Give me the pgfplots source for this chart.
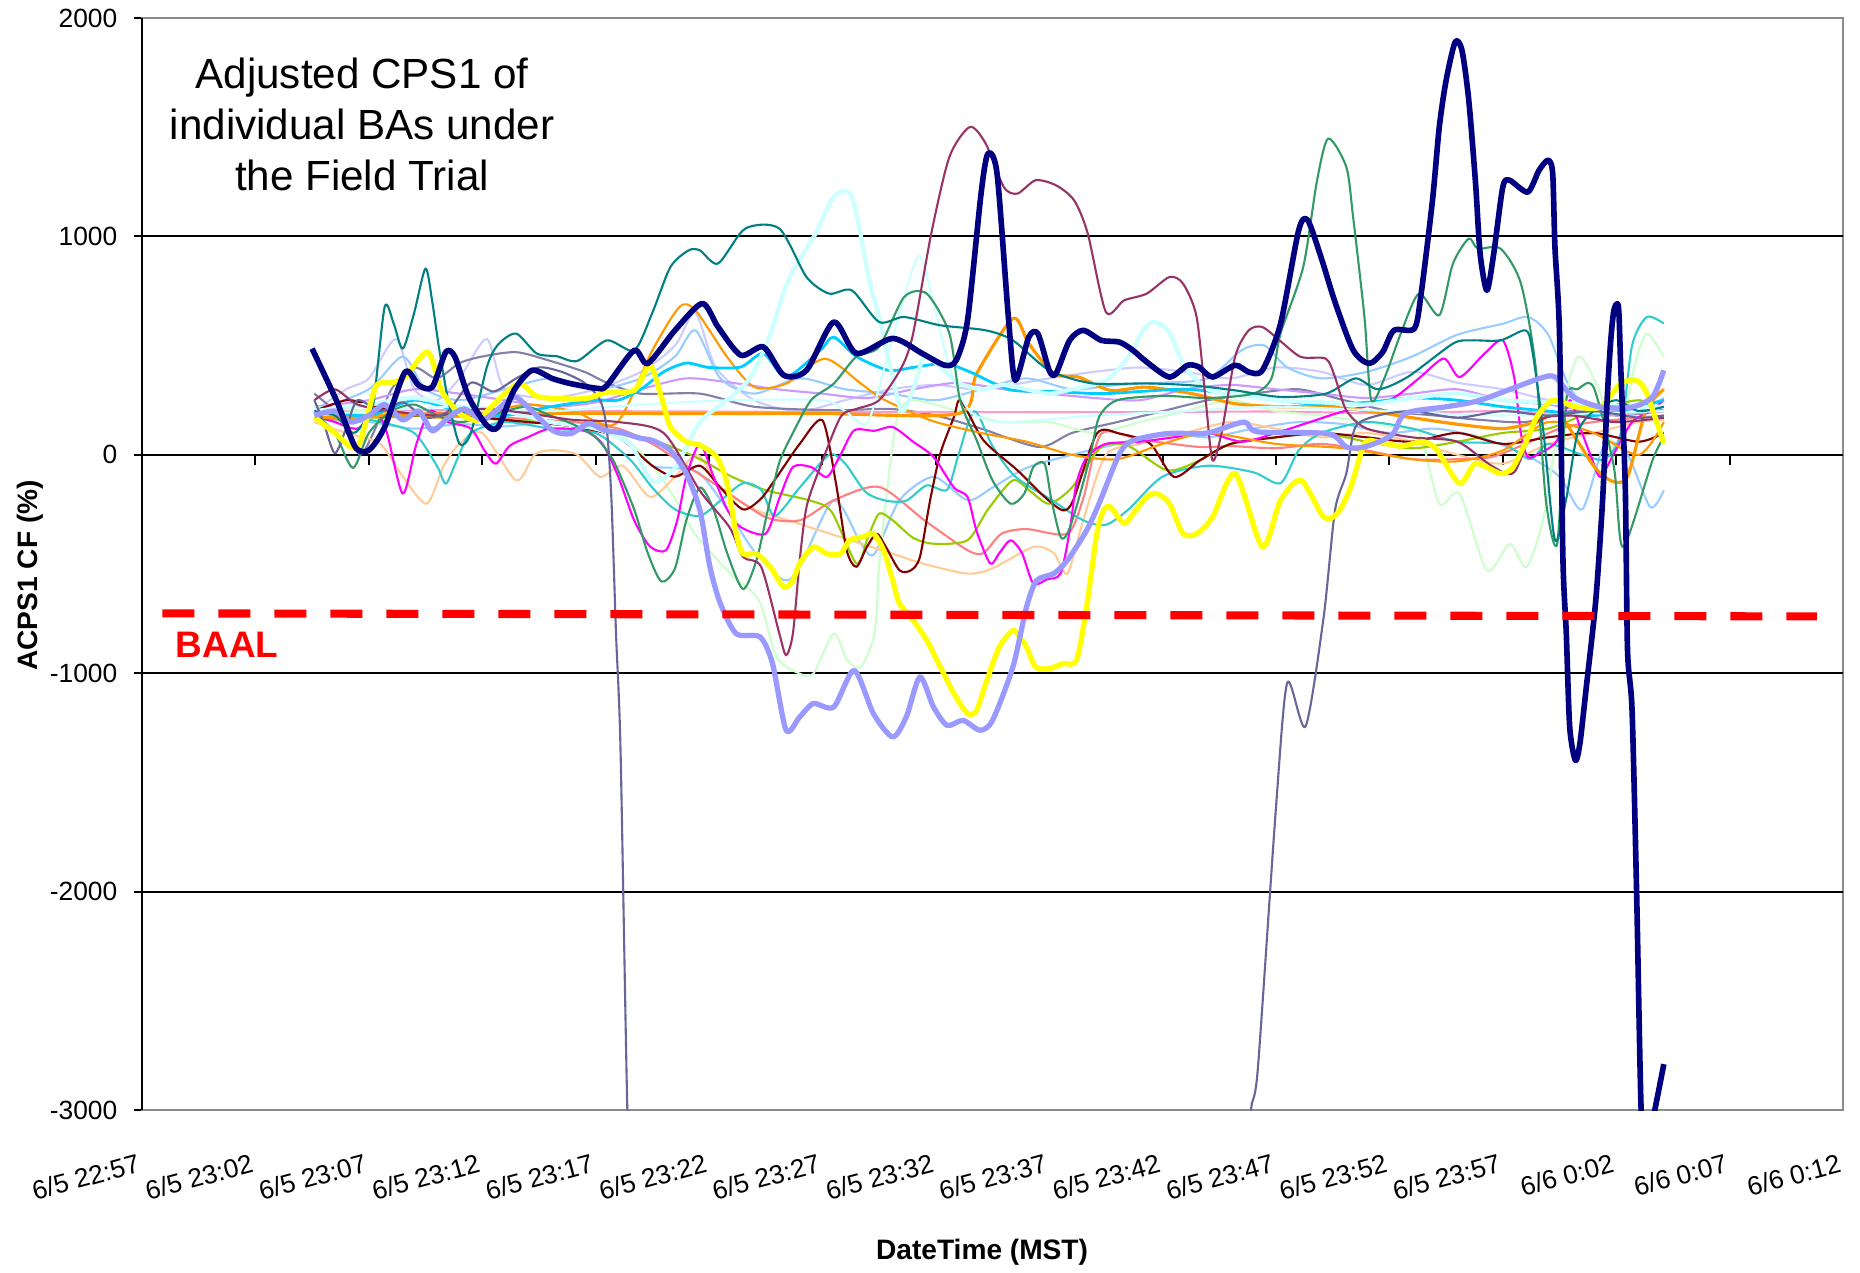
\documentclass[border=0pt]{standalone}
\usepackage{pgfplots}
\pgfplotsset{compat=1.18}
\usepackage{fontspec}
\setmainfont{Liberation Sans}

\definecolor{navyline}{HTML}{000080}
\definecolor{peri}{HTML}{9999FF}
\definecolor{yel}{HTML}{FFFF00}
\definecolor{bluegray}{HTML}{666699}
\definecolor{plum}{HTML}{993366}
\definecolor{tealline}{HTML}{008080}
\definecolor{seagreen}{HTML}{339966}
\definecolor{lcyan}{HTML}{CCFFFF}
\definecolor{skyb}{HTML}{00CCFF}
\definecolor{orng}{HTML}{FF9900}
\definecolor{mag}{HTML}{FF00FF}
\definecolor{darkred}{HTML}{800000}
\definecolor{tan}{HTML}{FFCC99}
\definecolor{lgreen}{HTML}{CCFFCC}
\definecolor{paleblue}{HTML}{99CCFF}
\definecolor{lav}{HTML}{CC99FF}
\definecolor{rose}{HTML}{FF99CC}
\definecolor{coral}{HTML}{FF8080}
\definecolor{lime}{HTML}{99CC00}
\definecolor{aqua}{HTML}{33CCCC}
\definecolor{grayblue}{HTML}{8080A8}
\definecolor{llav}{HTML}{CCCCFF}

\begin{document}
\begin{tikzpicture}
\useasboundingbox (-14.2mm,-16.2mm) rectangle (171.8mm,111.0mm);
\begin{axis}[
    at={(0,0)}, anchor=south west,
    scale only axis,
    width=170.1mm, height=109.2mm,
    xmin=0, xmax=75, ymin=-3000, ymax=2000,
    xtick={0,5,...,75},
    xticklabels={6/5 22:57,6/5 23:02,6/5 23:07,6/5 23:12,6/5 23:17,6/5 23:22,6/5 23:27,6/5 23:32,6/5 23:37,6/5 23:42,6/5 23:47,6/5 23:52,6/5 23:57,6/6 0:02,6/6 0:07,6/6 0:12},
    xtick pos=bottom, ytick pos=left,
    major x tick style={draw=none},
    x tick label style={rotate=15, anchor=north east, inner sep=0pt, xshift=-1.4mm, yshift=-3.2mm},
    ytick={-3000,-2000,...,2000},
    y tick label style={inner sep=0pt, xshift=-1.6mm},
    tick label style={font=\fontsize{7.5}{9}\selectfont},
    /pgf/number format/assume math mode=true,
    /pgf/number format/1000 sep={},
    tick align=outside, major tick length=0.8mm,
    ytick style={black, line width=0.6pt},
    axis line style={black!45, line width=0.6pt},
    every axis plot/.append style={line join=round, no markers, smooth, tension=0.45},
]

% grid lines
\pgfplotsinvokeforeach{-2000,-1000,0,1000}{
  \draw[black, line width=0.6pt] (axis cs:0,#1) -- (axis cs:75,#1);
}
\pgfplotsinvokeforeach{5,10,...,70}{
  \draw[black, line width=0.6pt] (axis cs:#1,0) -- ([yshift=-1mm]axis cs:#1,0);
}

% background BAs (thin lines)
\addplot[llav, line width=0.6pt] coordinates {
(7.6,200)(9,300)(10,350)(11.2,530)(12,300)(13,250)(14,350)(15.2,530)(16,300)(18,260)(20,300)(22,380)(23.5,500)(24.4,650)(25.3,400)(27,250)(29,200)(31,250)(33,300)(35,320)(37,300)(40,350)(42,380)(44,400)(46,380)(48,350)(50,400)(52,380)(54,320)(56,380)(58,330)(60,300)(62,250)(64,200)(67.1,250)};
\addplot[grayblue, line width=0.6pt] coordinates {
(7.6,280)(9,150)(9.6,0)(10.2,100)(11,300)(12,400)(13,350)(14,420)(15,450)(16.5,470)(18,430)(19.5,380)(20.5,330)(22,280)(24.6,280)(27,220)(30.5,204)(33,210)(35,180)(37,120)(39.55,36)(41,100)(43,150)(45,200)(47,250)(49,280)(51,300)(53,250)(55,200)(57,180)(59,160)(61,150)(63,200)(65,180)(67.1,200)};
\addplot[rose, line width=0.6pt] coordinates {
(7.6,200)(15,205)(20,200)(25,198)(30,196)(35,196)(40,195)(45,196)(50,198)(55,190)(60,200)(64,180)(67.1,200)};
\addplot[lav, line width=0.6pt] coordinates {
(7.6,220)(10,250)(12,300)(14,280)(16,250)(18,220)(20,240)(22,300)(24,350)(26,330)(28,300)(30,280)(32,260)(34,300)(36,330)(38,300)(40,280)(42,260)(44,250)(46,300)(48,320)(50,300)(52,280)(54,260)(56,280)(58,300)(60,250)(62,230)(64,200)(67.1,200)};
\addplot[paleblue, line width=0.6pt] coordinates {
(7.6,200)(10,300)(11.5,450)(12.5,300)(14,250)(16,300)(18,350)(20,300)(22,350)(23.5,450)(24.4,570)(25.5,350)(27,280)(29,350)(31,300)(33,280)(35,250)(37,300)(39,350)(41,300)(43,320)(45,330)(47,350)(48.5,480)(49.5,500)(50.5,400)(52,350)(54,380)(56,450)(58,550)(60,600)(61.1,631)(62,550)(63,300)(64.5,150)(66,200)(67.1,260)};
\addplot[paleblue, line width=0.6pt] coordinates {
(7.6,160)(10,150)(12,120)(14,140)(16,130)(18,150)(20,120)(21.5,50)(22.5,-50)(23.5,-60)(24.6,-86)(25.8,-250)(26.96,-437)(28.3,-574)(29.0,-513)(30.5,-208)(31.7,-407)(32.3,-453)(33.4,-208)(34.9,-101)(36.4,-208)(37.5,-150)(39,-60)(41,0)(43,50)(45,100)(47,80)(49,120)(51,150)(53,140)(55,100)(57,120)(59,80)(61,0)(62.5,-100)(63.5,-250)(64.5,50)(65.5,0)(66.5,-239)(67.1,-163)};
\addplot[lgreen, line width=0.6pt] coordinates {
(7.6,220)(10,200)(13,180)(16,160)(19,150)(21,100)(22.5,-50)(23.5,-200)(24.3,-350)(25.0,-437)(26,-550)(27.2,-666)(27.98,-926)(29.0,-1002)(29.6,-1002)(30.5,-819)(31.1,-941)(31.7,-971)(32.3,-819)(32.5,-513)(32.8,-208)(33.3,173)(34,250)(36,200)(38,150)(40,150)(42,100)(44,150)(46,200)(48,250)(50,200)(52,180)(54,150)(55.5,120)(56.35,97)(57.2,-224)(58.1,-178)(59.3,-529)(60.3,-407)(61.05,-514)(61.8,-285)(62.4,97)(63.3,448)(64.3,280)(65.0,21)(65.8,402)(66.35,555)(67.1,448)};
\addplot[tan, line width=0.6pt] coordinates {
(7.6,150)(9,100)(10.5,50)(11.5,-100)(12.55,-224)(13.3,-50)(14,50)(15,100)(16.5,-117)(17.3,0)(18.1,21)(19.2,0)(20.2,-101)(21.2,-50)(22.4,-193)(23.5,-100)(24.5,0)(25.5,-150)(27,-250)(28.5,-300)(30,-350)(31.5,-400)(33,-450)(34.5,-500)(36.4,-544)(37.5,-520)(39.3,-422)(40.2,-450)(40.8,-544)(41.5,-300)(42.5,0)(44,50)(46,100)(48,150)(50,120)(52,80)(54,100)(56,60)(58,0)(60,-40)(62,50)(64,100)(66,150)(67.1,160)};
\addplot[coral, line width=0.6pt] coordinates {
(7.6,200)(10,180)(13,190)(16,170)(19,150)(21,120)(22.5,50)(24,-50)(25.5,-150)(27.5,-285)(29,-300)(30.5,-208)(32.5,-147)(34.5,-300)(36.4,-437)(37.1,-450)(37.9,-361)(39,-340)(40.8,-361)(41.5,-200)(42.3,97)(44,70)(46.6,36)(48,40)(50,30)(52,50)(54,20)(56,-20)(58,-20)(59.5,-10)(61,50)(62.5,120)(64,150)(66,170)(67.1,180)};
\addplot[lime, line width=0.6pt] coordinates {
(7.6,190)(10,170)(13,180)(16,160)(19,140)(21,100)(23,50)(24.6,-20)(26,-100)(27.5,-162)(29.4,-208)(30.4,-260)(31.5,-498)(32.0,-380)(32.5,-269)(33.1,-300)(34.0,-380)(34.9,-407)(36.4,-391)(37.3,-250)(38.4,-117)(39.2,-170)(40.0,-224)(41,-150)(42.3,36)(43.5,40)(45.2,-71)(46.65,-25)(48,50)(50,80)(52,100)(54,60)(56,30)(58,60)(60,100)(62,120)(64,200)(66,250)(67.1,200)};
\addplot[aqua, line width=0.6pt] coordinates {
(7.6,200)(9,180)(10.5,150)(12,100)(13.0,-50)(13.4,-132)(13.9,-20)(14.5,100)(16,150)(18,120)(20,100)(21.5,-20)(22.5,-150)(23.5,-250)(24.6,-280)(25.5,-210)(26.5,-130)(27.3,-160)(27.9,-280)(29.0,-150)(30.3,0)(31,-40)(31.9,-170)(32.8,-210)(33.7,-210)(34.6,-140)(35.5,-160)(36,0)(36.7,200)(37.5,40)(38.5,-100)(40,-200)(41.5,-300)(42.5,-320)(43.5,-250)(45,-100)(47,-50)(49,-80)(50.2,-130)(51,20)(52,100)(54,150)(56,120)(58,60)(60,50)(61.2,-20)(62,50)(63.5,0)(64.5,-20)(65.2,100)(65.7,500)(66.35,631)(67.1,601)};
\addplot[darkred, line width=0.6pt] coordinates {
(7.6,200)(9,250)(10,230)(11,200)(12,180)(13,190)(15,170)(17,150)(19,130)(21,80)(22.5,-50)(23.5,-100)(24.6,-50)(25.5,-150)(26.5,-250)(27.3,-200)(28,-100)(29,50)(30.0,158)(30.6,-132)(31.07,-437)(31.5,-513)(31.96,-422)(32.4,-361)(32.8,-422)(33.4,-529)(33.9,-529)(34.3,-468)(34.75,-208)(35.2,6)(35.8,173)(36.1,250)(37.1,67)(38.6,-71)(39.8,-193)(40.6,-254)(41.06,-208)(42.1,97)(43.1,97)(44.45,51)(45.5,-101)(46.65,-25)(48,50)(50,80)(52,100)(54,80)(56,60)(58,100)(60,50)(62,80)(64,100)(66,60)(67.1,100)};
\addplot[mag, line width=0.6pt] coordinates {
(7.6,180)(8.5,150)(9.5,120)(10.3,200)(10.8,100)(11.5,-178)(12.1,50)(12.7,200)(13.5,150)(14.5,120)(15.1,20)(15.6,-41)(16.2,40)(17,80)(18,120)(19.5,110)(20.3,50)(21.0,-100)(21.7,-300)(22.4,-420)(23.1,-437)(23.6,-300)(24.0,-100)(24.6,50)(25.2,-100)(25.8,-250)(26.4,-331)(27.5,-361)(28.1,-200)(28.7,-56)(29.5,-56)(30.2,-101)(30.8,0)(31.4,112)(32.3,110)(33.1,127)(34.0,60)(34.9,-10)(35.8,-150)(36.4,-193)(36.8,-350)(37.4,-498)(37.8,-450)(38.3,-391)(38.8,-450)(39.3,-590)(39.9,-570)(40.5,-544)(40.9,-350)(41.2,-132)(41.66,-10)(42.5,50)(44,60)(45.5,80)(47,100)(48.5,60)(50,100)(51.5,150)(53,200)(55.0,250)(56.3,350)(57.4,441)(58.1,356)(59.2,464)(60.0,524)(60.5,356)(60.8,97)(61.1,-10)(61.6,6)(62.4,66)(62.95,250)(63.4,127)(63.9,-10)(64.3,-101)(64.9,6)(65.7,150)(66.5,200)(67.1,250)};
\addplot[orng, line width=0.6pt] coordinates {
(7.6,180)(9,160)(11,200)(13,170)(15,190)(17,230)(19,200)(20.9,143)(22.5,478)(23.7,677)(24.4,662)(25.8,448)(27.0,310)(28.4,326)(30.1,440)(31.7,326)(32.5,265)(33.7,204)(35,150)(37,100)(39,60)(41,0)(43,-20)(45,50)(47,100)(50,50)(53,30)(56,-20)(58,-30)(60,20)(62,150)(64,100)(66,0)(67.1,150)};
\addplot[orng, line width=0.9pt] coordinates {
(7.6,170)(10,180)(15,190)(20,190)(25,189)(30,189)(36.0,189)(36.8,372)(38.4,624)(39.1,509)(40.2,372)(41.3,356)(42.7,295)(44.3,310)(46.3,280)(48.2,234)(50.2,220)(52.2,220)(54.1,200)(56,170)(58,140)(60,120)(61.5,150)(62.5,180)(64,-50)(64.8,-120)(65.5,-100)(66.3,200)(67.1,300)};
\addplot[skyb, line width=0.8pt] coordinates {
(7.6,200)(10,180)(12,250)(14,200)(16,180)(18,220)(20,250)(21,250)(22,300)(23,380)(24,420)(25,400)(26.4,402)(27.4,464)(28.4,356)(29.9,478)(30.5,539)(31.5,450)(32.9,387)(34,400)(35.4,418)(36.5,380)(37.5,330)(38.4,295)(40,290)(42.3,280)(44,290)(46,300)(48,280)(50,250)(52,230)(54,240)(56,260)(58,250)(60,220)(62,200)(64,180)(66,220)(67.1,250)};
\addplot[lcyan, line width=0.6pt] coordinates {
(7.6,180)(10,200)(14,220)(18,200)(22,230)(26,250)(30,250)(31,200)(32,150)(33,500)(34.2,906)(34.8,738)(35.6,400)(36.5,200)(38,150)(42,180)(46,200)(50,220)(55,200)(60,180)(67.1,200)};
\addplot[lcyan, line width=1.2pt] coordinates {
(7.6,200)(10,230)(12,260)(14,220)(16,200)(18,150)(20,120)(21.5,50)(22.5,-120)(23.5,-60)(24.6,150)(25.8,250)(26.8,350)(27.6,524)(28.5,800)(29.7,1013)(30.5,1181)(31.3,1181)(32.1,784)(32.5,631)(33.0,400)(33.5,200)(34.0,300)(34.5,450)(35.2,400)(36.0,330)(37,300)(38,320)(39,300)(40,280)(41,300)(42.5,340)(43.5,450)(44.2,580)(44.7,608)(45.3,560)(46,400)(47,300)(48,280)(50,250)(52,240)(54,230)(56,260)(58,280)(60,250)(62,240)(64,230)(66,220)(67.1,220)};
\addplot[seagreen, line width=0.6pt] coordinates {
(7.6,190)(8.5,100)(9.3,-60)(10.0,100)(11,200)(12,230)(13,180)(14,150)(15,170)(16,200)(17,220)(18,180)(19,140)(20,80)(20.8,-30)(21.7,-250)(22.3,-450)(22.9,-580)(23.5,-520)(24.0,-300)(24.6,-150)(25.2,-250)(25.8,-450)(26.5,-615)(27.1,-480)(27.6,-250)(28.1,-35)(28.7,100)(29.5,250)(30.5,326)(31.5,450)(32.5,494)(33.6,722)(34.6,738)(35.6,555)(36.07,250)(36.8,67)(37.5,-117)(38.3,-224)(38.9,-178)(39.3,-56)(39.8,-41)(40.1,-208)(40.5,-376)(40.8,-361)(41.2,-239)(41.8,-10)(42.2,173)(43,250)(45,270)(47,260)(49,280)(49.8,350)(50.2,555)(51.2,860)(51.8,1250)(52.3,1448)(53.1,1318)(53.4,1089)(53.9,631)(54.2,250)(54.8,356)(55.5,555)(56.3,738)(57.2,639)(57.8,875)(58.5,990)(58.9,944)(59.9,944)(60.8,784)(61.45,402)(61.9,-208)(62.4,-407)(62.8,250)(63.3,300)(64.0,310)(64.9,-56)(65.3,-422)(66.6,-25)(67.1,81)};
\addplot[tealline, line width=0.6pt] coordinates {
(7.6,200)(8.5,180)(9.3,100)(9.8,150)(10.2,235)(10.7,677)(11.1,600)(11.5,486)(12.0,650)(12.5,853)(12.8,700)(13.1,486)(13.5,250)(14.0,50)(14.5,100)(15.2,400)(15.7,505)(16.5,555)(17.4,464)(18.3,451)(19.2,430)(20.5,524)(21.7,478)(22.5,650)(23.3,860)(24.1,936)(24.6,936)(25.4,876)(26.6,1036)(28.1,1036)(29.3,814)(30.3,738)(31.3,753)(32.5,608)(33.6,631)(35.2,593)(37.2,570)(38.4,524)(40.0,387)(41.9,327)(44.3,327)(46.3,318)(48.2,295)(50.2,265)(52.2,280)(53.5,350)(54.5,300)(55.8,356)(57.8,509)(58.6,524)(59.9,524)(61.0,570)(61.3,478)(61.8,97)(62.3,-391)(62.8,-200)(63.3,100)(64,200)(65,250)(66,200)(67.1,220)};
\addplot[plum, line width=0.6pt] coordinates {
(7.6,250)(8.5,300)(9.5,230)(11,200)(13,180)(15,210)(17,190)(19,160)(21,150)(23,100)(24.6,-165)(25.9,-331)(26.5,-468)(27.3,-513)(28.1,-818)(28.4,-918)(28.7,-818)(29.0,-483)(29.3,-239)(29.9,-56)(30.8,173)(31.5,210)(32.5,250)(33.5,402)(34.0,555)(34.8,1013)(35.6,1364)(36.5,1501)(37.2,1425)(38.0,1226)(38.6,1196)(39.4,1257)(40.3,1234)(41.1,1165)(41.7,1013)(42.5,654)(43.3,707)(44.3,738)(45.3,814)(45.9,784)(46.5,631)(46.9,250)(47.2,-25)(47.6,100)(48.2,450)(48.8,570)(49.4,585)(50.2,520)(51.1,448)(52.2,440)(52.6,356)(53.1,204)(54,120)(56,80)(58,60)(59.5,-50)(60.5,-80)(61.5,150)(63,180)(65,150)(67.1,170)};
\addplot[bluegray, line width=0.6pt] coordinates {
(7.6,250)(8.0,150)(8.5,7)(9.0,120)(9.5,250)(10.5,200)(11.5,240)(12.5,170)(13.5,200)(14.5,330)(15.5,290)(16.5,350)(17.5,400)(18.5,380)(19.5,330)(20.2,250)(20.5,112)(20.7,-208)(20.9,-818)(21.1,-1354)(21.4,-3000)(21.6,-3400)(35,-6000)(48.7,-3400)(48.9,-3000)(49.2,-2810)(50.0,-1614)(50.5,-1043)(51.3,-1244)(52.1,-744)(52.6,-255)(53.1,-86)(53.5,127)(54.5,180)(56,200)(58,170)(60,200)(62,180)(64,200)(66,170)(67.1,180)};

% highlighted BAs (thick lines)
\addplot[yel, line width=1.5pt] coordinates {
(7.6,173)(8.5,100)(9.5,36)(10.3,310)(11.0,330)(11.6,356)(12.6,471)(13.2,295)(14.0,189)(14.8,158)(15.4,219)(16.6,326)(17.5,265)(19.5,257)(20.5,287)(21.7,295)(22.4,410)(22.9,265)(23.3,127)(24.0,60)(24.6,44)(25.34,-10)(25.8,-132)(26.2,-361)(26.5,-453)(27.1,-453)(27.7,-513)(28.3,-605)(28.7,-575)(29.0,-498)(29.6,-422)(30.2,-453)(30.8,-453)(31.2,-391)(31.8,-376)(32.25,-361)(32.7,-437)(33.1,-575)(33.4,-681)(34.0,-757)(34.6,-849)(35.2,-971)(35.8,-1093)(36.4,-1185)(36.8,-1170)(37.2,-1048)(37.8,-880)(38.4,-804)(38.7,-834)(39.0,-880)(39.4,-971)(40.0,-979)(40.6,-956)(41.2,-941)(41.65,-697)(42.1,-361)(42.4,-254)(42.7,-239)(43.3,-315)(43.7,-269)(44.3,-193)(44.74,-178)(45.3,-223)(45.9,-361)(46.5,-361)(47.2,-285)(48.2,-86)(49.4,-422)(50.2,-208)(51.1,-117)(52.1,-285)(52.7,-269)(53.3,-147)(53.9,51)(54.5,60)(55.5,40)(56.5,60)(57.1,21)(58.1,-132)(58.8,-40)(59.9,-86)(60.45,-56)(61.05,66)(61.5,173)(62.2,250)(63.25,219)(64.3,219)(65.2,326)(65.9,341)(66.35,280)(67.1,51)};
\addplot[peri, line width=1.5pt] coordinates {
(7.6,180)(8.5,200)(9.2,150)(10,180)(10.7,230)(11.5,160)(12.2,200)(12.8,110)(13.5,170)(14.2,210)(15.0,160)(15.6,200)(16.4,265)(17.0,220)(18.1,112)(18.9,97)(19.7,143)(20.4,112)(21.2,100)(22.0,75)(22.5,66)(23.3,20)(24.0,-86)(24.6,-254)(25.04,-513)(25.5,-681)(26.2,-819)(27.25,-834)(27.8,-956)(28.4,-1261)(29.0,-1200)(29.6,-1139)(30.5,-1155)(31.4,-987)(32.25,-1185)(33.1,-1292)(33.7,-1200)(34.3,-1017)(34.9,-1155)(35.5,-1239)(36.2,-1216)(36.95,-1261)(37.5,-1216)(38.4,-971)(39.0,-697)(39.45,-575)(40.2,-544)(40.8,-483)(41.65,-346)(42.2,-223)(43.1,5)(43.7,66)(45.2,97)(46.6,97)(47.2,105)(48.6,150)(49.2,105)(52.3,97)(53.1,36)(53.9,36)(55.1,89)(55.7,189)(57.5,220)(59.0,250)(61.6,349)(62.3,356)(63.1,265)(64.3,219)(65.7,219)(66.6,265)(67.1,387)};
\addplot[navyline, line width=1.6pt] coordinates {
(7.5,486)(8.6,242)(9.4,36)(10.0,21)(10.7,127)(11.6,379)(12.2,318)(12.8,310)(13.4,471)(13.8,448)(14.4,265)(15.2,135)(15.7,127)(16.4,295)(17.2,387)(18.1,349)(18.9,326)(20.1,304)(20.5,318)(21.7,478)(22.3,418)(23.5,570)(24.7,693)(25.4,585)(26.4,456)(27.4,494)(28.3,364)(29.3,387)(30.5,608)(31.5,464)(33.1,533)(34.4,464)(35.4,410)(35.9,433)(36.4,616)(37.0,1200)(37.3,1379)(37.7,1288)(38.2,631)(38.5,341)(39.1,539)(39.5,555)(40.0,387)(40.3,372)(40.9,524)(41.5,570)(42.3,524)(43.1,516)(43.7,478)(44.3,425)(45.3,356)(46.1,410)(46.6,402)(47.2,356)(48.2,410)(48.8,379)(49.4,387)(50.2,600)(51.0,1028)(51.4,1074)(52.0,900)(52.6,700)(53.4,480)(54.1,418)(54.7,470)(55.2,570)(56.1,578)(56.4,738)(56.9,1165)(57.2,1501)(57.5,1714)(57.9,1890)(58.2,1852)(58.5,1623)(58.8,1242)(59.0,921)(59.3,753)(59.6,921)(60.0,1226)(60.3,1257)(61.1,1203)(61.6,1303)(62.0,1349)(62.2,1288)(62.3,951)(62.5,555)(62.65,-468)(62.8,-818)(62.95,-1246)(63.2,-1399)(63.4,-1322)(63.7,-1047)(64.1,-666)(64.4,-208)(64.6,250)(64.75,510)(64.9,662)(65.1,677)(65.2,402)(65.4,-147)(65.5,-895)(65.7,-1170)(65.9,-2000)(66.1,-3000)(66.3,-3150)(66.6,-3050)(67.1,-2790)};

% BAAL limit
\addplot[red, line width=2.3pt, dash pattern=on 3.2mm off 2.4mm] coordinates {(0.9,-726) (73.85,-740)};

\node[align=center, font=\fontsize{12}{14.5}\selectfont] at (axis cs:9.7,1511)
  {Adjusted CPS1 of\\individual BAs under\\the Field Trial};
\node[red, font=\fontsize{10.5}{12}\selectfont\bfseries] at (axis cs:3.75,-868) {BAAL};

\coordinate (xl) at (axis cs:37.04,-3000);
\coordinate (yl) at (axis cs:0,-552);
\end{axis}
\draw[black, line width=0.6pt] (0,0) -- (0,109.2mm);
\node[font=\fontsize{8}{10}\selectfont\bfseries] at ([yshift=-14.2mm]xl) {DateTime (MST)};
\node[rotate=90, font=\fontsize{8}{10}\selectfont\bfseries] at ([xshift=-11.2mm]yl) {ACPS1 CF (\%)};
\end{tikzpicture}
\end{document}
